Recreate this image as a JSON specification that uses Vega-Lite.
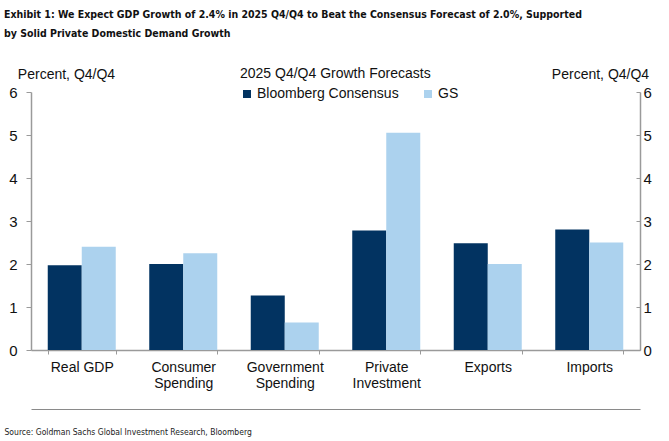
{
  "$schema": "https://vega.github.io/schema/vega-lite/v6.json",
  "width": 609,
  "height": 258,
  "autosize": {"type": "none"},
  "padding": {"left": 31, "top": 92, "right": 29, "bottom": 91},
  "background": "white",
  "title": {
    "text": [
      "Exhibit 1: We Expect GDP Growth of 2.4% in 2025 Q4/Q4 to Beat the Consensus Forecast of 2.0%, Supported",
      "by Solid Private Domestic Demand Growth"
    ],
    "anchor": "start",
    "frame": "group",
    "dx": -27,
    "offset": 28,
    "font": "DejaVu Sans Condensed",
    "fontSize": 10.5,
    "fontWeight": "bold",
    "color": "#111111",
    "lineHeight": 19,
    "limit": 0
  },
  "data": {
    "values": [
      {"category": "Real GDP", "series": "Bloomberg Consensus", "value": 1.97},
      {"category": "Real GDP", "series": "GS", "value": 2.4},
      {"category": "Consumer Spending", "series": "Bloomberg Consensus", "value": 2.0},
      {"category": "Consumer Spending", "series": "GS", "value": 2.25},
      {"category": "Government Spending", "series": "Bloomberg Consensus", "value": 1.27},
      {"category": "Government Spending", "series": "GS", "value": 0.64},
      {"category": "Private Investment", "series": "Bloomberg Consensus", "value": 2.78},
      {"category": "Private Investment", "series": "GS", "value": 5.05},
      {"category": "Exports", "series": "Bloomberg Consensus", "value": 2.48},
      {"category": "Exports", "series": "GS", "value": 2.0},
      {"category": "Imports", "series": "Bloomberg Consensus", "value": 2.8},
      {"category": "Imports", "series": "GS", "value": 2.5}
    ]
  },
  "layer": [
    {
      "mark": {"type": "bar"},
      "encoding": {
        "x": {
          "field": "category",
          "type": "nominal",
          "sort": null,
          "scale": {"paddingInner": 0.33, "paddingOuter": 0.165},
          "axis": {
            "title": null,
            "labelAngle": 0,
            "labelFontSize": 14,
            "labelColor": "#111111",
            "labelLineHeight": 16,
            "labelBaseline": "top",
            "labelPadding": 6,
            "labelExpr": "datum.label == 'Real GDP' ? datum.label : split(datum.label, ' ')",
            "tickBand": "extent",
            "tickSize": 4,
            "domainColor": "#9a9a9a",
            "tickColor": "#9a9a9a",
            "domainWidth": 1.5
          }
        },
        "xOffset": {"field": "series", "type": "nominal", "scale": {"paddingInner": 0, "paddingOuter": 0}},
        "y": {
          "field": "value",
          "type": "quantitative",
          "scale": {"domain": [0, 6], "nice": false},
          "axis": {
            "values": [0, 1, 2, 3, 4, 5, 6],
            "grid": false,
            "title": "Percent, Q4/Q4",
            "titleAngle": 0,
            "titleAlign": "center",
            "titleBaseline": "alphabetic",
            "titleX": 35,
            "titleY": -14,
            "titleFontSize": 14,
            "titleFontWeight": "normal",
            "titleColor": "#111111",
            "labelFontSize": 15,
            "labelColor": "#111111",
            "labelPadding": 9,
            "tickSize": 5,
            "domainColor": "#9a9a9a",
            "tickColor": "#9a9a9a",
            "domainWidth": 1.5
          }
        },
        "color": {
          "field": "series",
          "type": "nominal",
          "scale": {"domain": ["Bloomberg Consensus", "GS"], "range": ["#023361", "#acd2ee"]},
          "legend": {
            "title": "2025 Q4/Q4 Growth Forecasts",
            "orient": "none",
            "legendX": 209,
            "legendY": -25,
            "direction": "horizontal",
            "symbolType": "square",
            "symbolSize": 64,
            "symbolStrokeWidth": 0,
            "titleFontSize": 14,
            "titleFontWeight": "normal",
            "titleColor": "#111111",
            "titleLimit": 400,
            "titlePadding": 6,
            "labelFontSize": 14,
            "labelColor": "#111111",
            "labelLimit": 300,
            "labelOffset": 3,
            "columnPadding": 22
          }
        }
      }
    },
    {
      "mark": {"type": "bar", "opacity": 0},
      "encoding": {
        "x": {
          "field": "category",
          "type": "nominal",
          "sort": null,
          "scale": {"paddingInner": 0.33, "paddingOuter": 0.165},
          "axis": {
            "orient": "bottom",
            "offset": 59,
            "labels": false,
            "ticks": false,
            "domainColor": "#8a8a8a",
            "domainWidth": 1,
            "title": "Source: Goldman Sachs Global Investment Research, Bloomberg",
            "titleFont": "DejaVu Sans Condensed",
            "titleFontSize": 8.5,
            "titleFontWeight": "normal",
            "titleColor": "#222222",
            "titleAnchor": "start",
            "titleAlign": "left",
            "titleBaseline": "alphabetic",
            "titleX": -27,
            "titleY": 25,
            "titleLimit": 600
          }
        },
        "xOffset": {"field": "series", "type": "nominal"},
        "y": {
          "field": "value",
          "type": "quantitative",
          "scale": {"domain": [0, 6], "nice": false},
          "axis": {
            "orient": "right",
            "values": [0, 1, 2, 3, 4, 5, 6],
            "grid": false,
            "title": "Percent, Q4/Q4",
            "titleAngle": 0,
            "titleAlign": "center",
            "titleBaseline": "alphabetic",
            "titleX": -40,
            "titleY": -14,
            "titleFontSize": 14,
            "titleFontWeight": "normal",
            "titleColor": "#111111",
            "labelFontSize": 15,
            "labelColor": "#111111",
            "labelPadding": 7,
            "tickSize": -4,
            "domainColor": "#9a9a9a",
            "tickColor": "#9a9a9a",
            "domainWidth": 1.5
          }
        }
      }
    }
  ],
  "resolve": {"scale": {"y": "independent", "x": "independent"}},
  "config": {
    "font": "Liberation Sans",
    "view": {"stroke": null},
    "bar": {"discreteBandSize": {"band": 1}}
  }
}
